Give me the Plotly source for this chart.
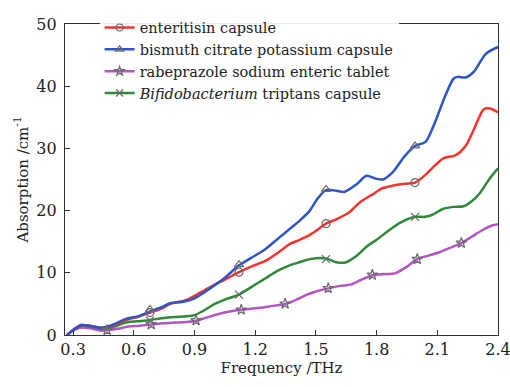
import plotly.graph_objects as go

# ---- data ----
blue_x = [0.27,0.30,0.34,0.38,0.44,0.50,0.56,0.62,0.68,0.74,0.78,0.85,0.90,0.95,1.00,1.05,1.12,1.18,1.25,1.32,1.38,1.42,1.47,1.51,1.55,1.60,1.64,1.70,1.75,1.79,1.83,1.88,1.94,1.99,2.04,2.08,2.14,2.18,2.20,2.24,2.28,2.34,2.40]
blue_y = [0,0.8,1.6,1.5,1.15,1.7,2.6,3.0,3.8,4.5,5.1,5.4,5.9,6.9,8.0,9.2,11.2,12.4,13.8,15.7,17.3,18.4,20.0,22.0,23.3,23.2,23.0,24.2,25.6,25.2,25.0,26.2,28.8,30.4,31.0,33.5,38.5,41.2,41.5,41.4,42.3,45.2,46.3]

red_x = [0.27,0.30,0.34,0.38,0.44,0.50,0.56,0.62,0.68,0.74,0.78,0.85,0.90,0.95,1.00,1.05,1.12,1.18,1.25,1.32,1.37,1.42,1.48,1.55,1.60,1.66,1.72,1.78,1.83,1.88,1.94,1.99,2.04,2.08,2.13,2.19,2.24,2.28,2.33,2.36,2.40]
red_y = [0,0.8,1.6,1.5,1.15,1.6,2.4,2.9,3.6,4.3,5.0,5.5,6.3,7.2,8.1,8.9,10.1,11.0,11.9,13.4,14.6,15.3,16.3,17.9,18.6,19.6,21.4,22.6,23.6,24.0,24.3,24.5,25.7,27.0,28.4,28.9,30.4,33.0,36.3,36.4,35.8]

purple_x = [0.27,0.30,0.34,0.38,0.44,0.47,0.52,0.58,0.63,0.69,0.75,0.80,0.86,0.91,0.96,1.01,1.06,1.13,1.20,1.27,1.35,1.40,1.45,1.50,1.56,1.62,1.67,1.72,1.78,1.84,1.89,1.95,2.00,2.06,2.11,2.17,2.22,2.27,2.32,2.37,2.40]
purple_y = [0,0.7,1.2,1.1,0.7,0.78,1.0,1.4,1.5,1.7,1.9,2.0,2.1,2.3,2.8,3.3,3.7,4.05,4.3,4.6,5.0,5.6,6.4,7.0,7.5,7.9,8.1,8.8,9.6,9.8,9.9,11.0,12.2,12.8,13.3,14.1,14.8,15.8,16.8,17.6,17.8]

green_x = [0.27,0.30,0.34,0.38,0.44,0.50,0.56,0.62,0.68,0.74,0.80,0.86,0.90,0.95,1.00,1.05,1.12,1.18,1.25,1.31,1.37,1.42,1.47,1.55,1.60,1.65,1.70,1.75,1.80,1.86,1.92,1.99,2.04,2.08,2.13,2.18,2.23,2.27,2.31,2.36,2.40]
green_y = [0,0.8,1.5,1.4,1.0,1.3,2.0,2.2,2.4,2.7,2.9,3.0,3.2,4.0,5.0,5.7,6.5,7.7,9.1,10.3,11.2,11.7,12.2,12.3,11.7,11.7,12.7,14.2,15.3,16.8,18.1,19.0,19.0,19.4,20.3,20.6,20.7,21.5,22.8,25.2,26.8]

# marker positions
red_mx = [0.68,1.12,1.55,1.99]
red_my = [3.6,10.1,17.9,24.5]
blue_mx = [0.68,1.12,1.55,1.99]
blue_my = [4.1,11.3,23.4,30.4]
purple_mx = [0.468,0.686,0.908,1.131,1.348,1.561,1.779,2.001,2.219]
purple_my = [0.78,1.71,2.34,4.05,5.03,7.52,9.66,12.2,14.8]
green_mx = [0.68,1.12,1.55,1.99]
green_my = [2.3,6.5,12.2,19.0]

x_ticks = [0.3, 0.6, 0.9, 1.2, 1.5, 1.8, 2.1, 2.4]
x_labels = ["0.3", "0.6", "0.9", "1.2", "1.5", "1.8", "2.1", "2.4"]
y_ticks = [0, 10, 20, 30, 40, 50]

names = ["enteritisin capsule", "bismuth citrate potassium capsule",
         "rabeprazole sodium enteric tablet", "<i>Bifidobacterium</i> triptans capsule"]
colors = ["#f5332e", "#2f55c4", "#b356c4", "#2e8a3a"]
symbols = ["circle-open", "triangle-up-open", "star-open", "x-thin-open"]

series = [(red_x, red_y, red_mx, red_my), (blue_x, blue_y, blue_mx, blue_my),
          (purple_x, purple_y, purple_mx, purple_my), (green_x, green_y, green_mx, green_my)]

FONT = "DejaVu Serif"
TXT = "#222"
fig = go.Figure()
mk_color = "#6a6a6a"
draw_order = [2, 3, 0, 1]
for i in draw_order:
    x, y, mx, my = series[i]
    fig.add_trace(go.Scatter(x=x, y=y, mode="lines",
                             line=dict(color=colors[i], width=2.5, shape="spline", smoothing=0.8),
                             showlegend=False, hoverinfo="skip"))
for i in draw_order:
    x, y, mx, my = series[i]
    fig.add_trace(go.Scatter(x=mx, y=my, mode="markers",
                             marker=dict(symbol=symbols[i], size=8, color=mk_color,
                                         line=dict(color=mk_color, width=1.2)),
                             showlegend=False))
for i in range(4):
    fig.add_trace(go.Scatter(x=[None], y=[None], mode="lines+markers", name=names[i],
                             line=dict(color=colors[i], width=2.5),
                             marker=dict(symbol=symbols[i], size=7, color=mk_color,
                                         line=dict(color=mk_color, width=1.2))))

axis_common = dict(showline=True, linecolor="#333", linewidth=1.3, mirror=True, ticks="inside",
                   ticklen=5, tickwidth=1.3, tickcolor="#333", showgrid=False, zeroline=False,
                   automargin=False, ticklabeloverflow="allow",
                   tickfont=dict(family=FONT, size=16, color=TXT))
fig.update_xaxes(range=[0.26, 2.4], tickvals=x_ticks, ticktext=x_labels,
                 title=dict(text="Frequency /THz", font=dict(family=FONT, size=15, color=TXT), standoff=4),
                 **axis_common)
fig.update_yaxes(range=[0, 50], tickvals=y_ticks, ticklabelstandoff=4,
                 title=dict(text="Absorption /cm<sup>-1</sup>", font=dict(family=FONT, size=15, color=TXT), standoff=4),
                 **axis_common)
fig.update_layout(width=510, height=387, margin=dict(l=65, r=12, t=15, b=52),
                  paper_bgcolor="white", plot_bgcolor="white",
                  legend=dict(x=0.08, y=1.04, xanchor="left", yanchor="top", bgcolor="rgba(255,255,255,0.9)",
                              font=dict(family=FONT, size=14.5, color=TXT),
                              tracegroupgap=0, itemwidth=30),
                  font=dict(family=FONT))
fig.write_html("out.html")
